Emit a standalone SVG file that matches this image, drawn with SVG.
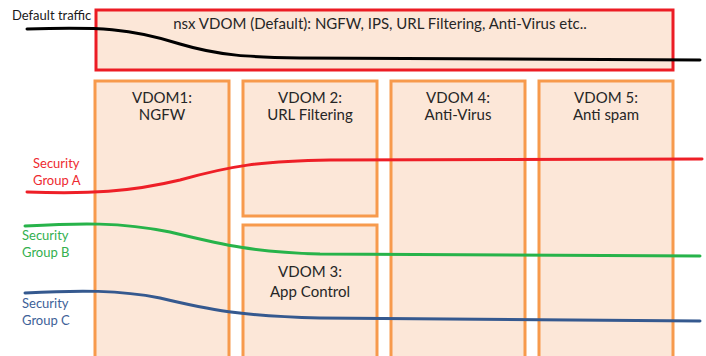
<svg xmlns="http://www.w3.org/2000/svg" width="706" height="356" viewBox="0 0 706 356">
<style>
.vdom{fill:#fce7d8;stroke:#f79a4c;stroke-width:3}
.nsx{fill:#fce7d8;stroke:#ec1c24;stroke-width:3}
.t{font-family:Lato,"Liberation Sans",sans-serif;font-size:15px;fill:#262626;text-anchor:middle}
.s{font-family:Lato,"Liberation Sans",sans-serif;font-size:13px}
.flow{fill:none;stroke-width:3;stroke-linecap:round}
</style>
<rect width="706" height="356" fill="#ffffff"/>
<g id="nsx">
<rect class="nsx" x="96" y="10" width="577" height="60"/>
<text class="t" x="380" y="29">nsx VDOM (Default): NGFW, IPS, URL Filtering, Anti-Virus etc..</text>
</g>
<g id="vdom1">
<rect class="vdom" x="95" y="81" width="134" height="285"/>
<text class="t" x="162" y="103">VDOM1:</text>
<text class="t" x="162" y="120">NGFW</text>
</g>
<g id="vdom2">
<rect class="vdom" x="243" y="81" width="134" height="135"/>
<text class="t" x="310" y="103">VDOM 2:</text>
<text class="t" x="310" y="120">URL Filtering</text>
</g>
<g id="vdom3">
<rect class="vdom" x="243" y="225" width="134" height="141"/>
<text class="t" x="310" y="277">VDOM 3:</text>
<text class="t" x="310" y="297">App Control</text>
</g>
<g id="vdom4">
<rect class="vdom" x="391" y="81" width="134" height="285"/>
<text class="t" x="458" y="103">VDOM 4:</text>
<text class="t" x="458" y="120">Anti-Virus</text>
</g>
<g id="vdom5">
<rect class="vdom" x="539" y="81" width="134" height="285"/>
<text class="t" x="606" y="103">VDOM 5:</text>
<text class="t" x="606" y="120">Anti spam</text>
</g>
<g id="labels">
<text class="s" x="12" y="20" fill="#1a1a1a">Default traffic</text>
<text class="s" x="33" y="168" fill="#ee2a30">Security</text>
<text class="s" x="33" y="185" fill="#ee2a30">Group A</text>
<text class="s" x="22" y="240" fill="#33b04e">Security</text>
<text class="s" x="22" y="257" fill="#33b04e">Group B</text>
<text class="s" x="22" y="308" fill="#3d6198">Security</text>
<text class="s" x="22" y="325" fill="#3d6198">Group C</text>
</g>
<g id="connectors">
<path class="flow" stroke="#000000" stroke-width="2.5" d="M27,29 C100,27 130,28 180,44 C220,56 250,57 300,58 L700,60"/>
<path class="flow" stroke="#ee1f27" d="M27,192 C90,194 130,192 180,180 C230,166 260,161 330,160 L702,159"/>
<path class="flow" stroke="#27b34a" d="M25,226 C80,223 120,222 170,232 C220,244 250,252 320,254 L700,256"/>
<path class="flow" stroke="#35598f" d="M25,293 C80,290 120,290 160,298 C210,310 240,316 320,318 L700,321"/>
</g>
</svg>
